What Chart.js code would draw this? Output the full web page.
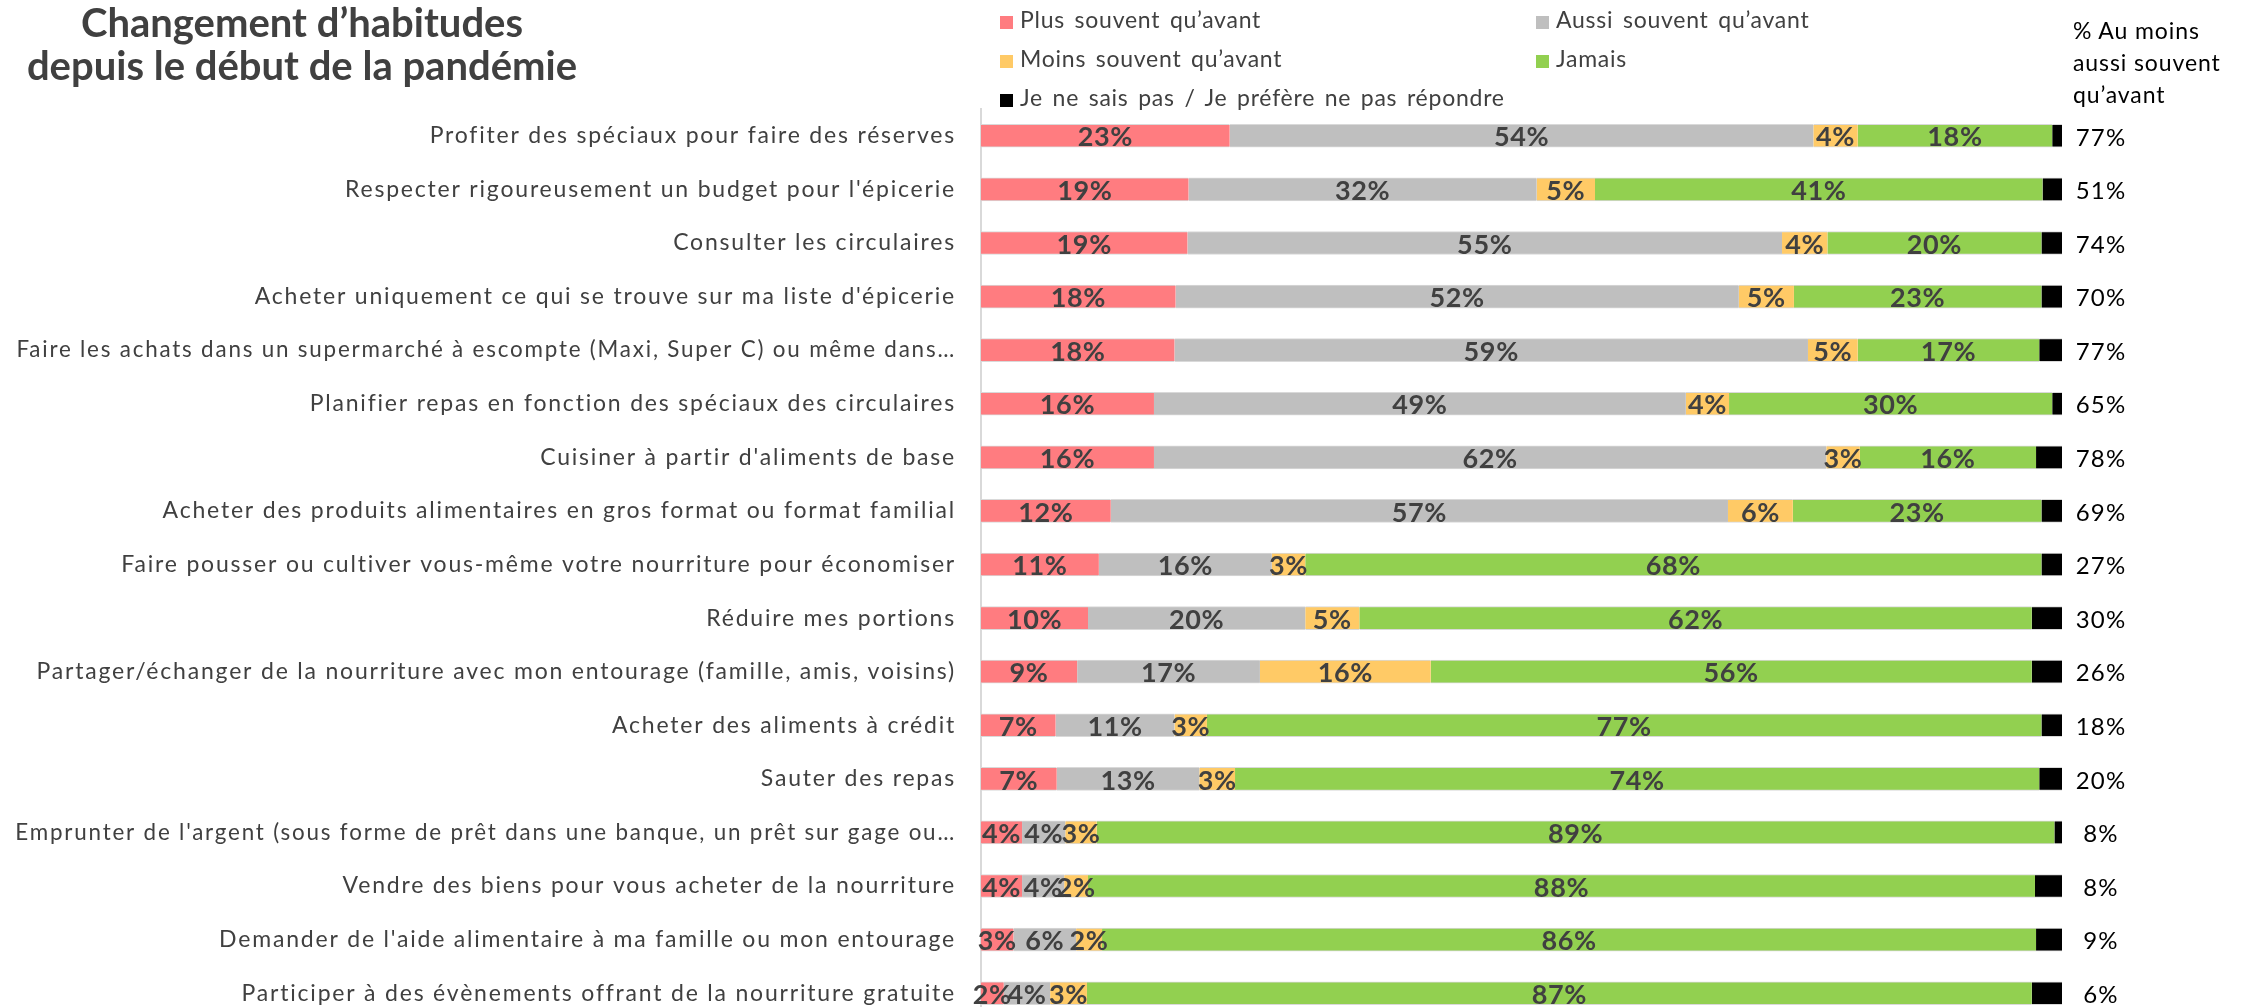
<!DOCTYPE html>
<html><head><meta charset="utf-8">
<script src="https://cdn.jsdelivr.net/npm/chart.js@4.4.1/dist/chart.umd.min.js"></script>
<style>
html,body{margin:0;padding:0;background:#fff;overflow:hidden;width:2243px;height:1007px;}
#wrap{position:relative;width:2243px;height:1007px;overflow:hidden;}
#c{position:absolute;left:0;top:0;width:2243px;height:1030px;}
.title{position:absolute;left:0;width:604px;top:1px;text-align:center;font-family:Lato;font-weight:700;font-size:40px;color:#404040;line-height:43px;}
.leg{position:absolute;font-family:Lato;font-size:23px;letter-spacing:0.75px;word-spacing:3px;color:#404040;white-space:nowrap;line-height:26px;}
.leg i{display:inline-block;width:13px;height:13px;margin-right:7px;vertical-align:-1px;}
.hdr{position:absolute;left:2073px;top:14px;font-family:Lato;font-size:23px;letter-spacing:0.9px;color:#000;line-height:32px;}
</style></head>
<body>
<div id="wrap">
<canvas id="c" width="2243" height="1030"></canvas>
<div class="title">Changement d’habitudes<br>depuis le début de la pandémie</div>
<div id="legend"></div>
<div class="hdr">% Au moins<br>aussi souvent<br>qu’avant</div>
</div>
<script>
const categories = [
  "Profiter des spéciaux pour faire des réserves",
  "Respecter rigoureusement un budget pour l'épicerie",
  "Consulter les circulaires",
  "Acheter uniquement ce qui se trouve sur ma liste d'épicerie",
  "Faire les achats dans un supermarché à escompte (Maxi, Super C) ou même dans…",
  "Planifier repas en fonction des spéciaux des circulaires",
  "Cuisiner à partir d'aliments de base",
  "Acheter des produits alimentaires en gros format ou format familial",
  "Faire pousser ou cultiver vous-même votre nourriture pour économiser",
  "Réduire mes portions",
  "Partager/échanger de la nourriture avec mon entourage (famille, amis, voisins)",
  "Acheter des aliments à crédit",
  "Sauter des repas",
  "Emprunter de l'argent (sous forme de prêt dans une banque, un prêt sur gage ou…",
  "Vendre des biens pour vous acheter de la nourriture",
  "Demander de l'aide alimentaire à ma famille ou mon entourage",
  "Participer à des évènements offrant de la nourriture gratuite"
];
const plusSouvent  = [23.0, 19.2, 19.1, 18.0, 17.9, 16.0, 16.0, 12.0, 10.9,  9.9,  8.9,  6.9,  7.0,  3.8,  3.8,  3.0,  2.1];
const aussiSouvent = [54.0, 32.2, 55.0, 52.1, 58.6, 49.2, 62.2, 57.1, 16.0, 20.1, 16.9, 11.0, 13.2,  4.0,  3.9,  5.8,  4.3];
const moinsSouvent = [ 4.1,  5.4,  4.2,  5.1,  4.6,  4.0,  3.1,  6.0,  3.1,  5.0, 15.8,  3.0,  3.3,  2.9,  2.2,  2.4,  3.4];
const jamais       = [18.0, 41.4, 19.8, 22.9, 16.8, 29.9, 16.3, 23.0, 68.1, 62.2, 55.6, 77.2, 74.4, 88.6, 87.6, 86.4, 87.4];
const neSaisPas    = [ 0.9,  1.8,  1.9,  1.9,  2.1,  0.9,  2.4,  1.9,  1.9,  2.8,  2.8,  1.9,  2.1,  0.7,  2.5,  2.4,  2.8];
const auMoinsAussi = [77, 51, 74, 70, 77, 65, 78, 69, 27, 30, 26, 18, 20, 8, 8, 9, 6];
const seriesNames = ["Plus souvent qu’avant", "Aussi souvent qu’avant", "Moins souvent qu’avant", "Jamais", "Je ne sais pas / Je préfère ne pas répondre"];
const seriesColors = ["#FF7C80", "#BFBFBF", "#FFCA66", "#92D050", "#000000"];
const seriesValues = [plusSouvent, aussiSouvent, moinsSouvent, jamais, neSaisPas];
const labelledSeries = [true, true, true, true, false];

// HTML legend built from the series arrays
const legendPos = [[1000, 6], [1536, 6], [1000, 45], [1536, 45], [1000, 84]];
const legendEl = document.getElementById('legend');
seriesNames.forEach((n, i) => {
  const d = document.createElement('div');
  d.className = 'leg';
  d.style.left = legendPos[i][0] + 'px';
  d.style.top = legendPos[i][1] + 'px';
  d.innerHTML = '<i style="background:' + seriesColors[i] + '"></i>' + n;
  legendEl.appendChild(d);
});

const textSpacing = {
  id: 'textSpacing',
  beforeDraw(chart) { chart.ctx.letterSpacing = '1.8px'; }
};
const segmentLabels = {
  id: 'segmentLabels',
  afterDatasetsDraw(chart) {
    const ctx = chart.ctx;
    ctx.save();
    ctx.letterSpacing = '0.6px';
    ctx.font = 'bold 27px Lato';
    ctx.fillStyle = '#404040';
    ctx.textAlign = 'center';
    ctx.textBaseline = 'middle';
    chart.data.datasets.forEach((ds, di) => {
      if (!labelledSeries[di]) return;
      const meta = chart.getDatasetMeta(di);
      meta.data.forEach((bar, i) => {
        const p = bar.getProps(['x', 'y', 'base'], true);
        ctx.fillText(Math.round(ds.data[i]) + '%', (p.x + p.base) / 2, p.y + 2);
      });
    });
    ctx.restore();
  }
};
const rightColumn = {
  id: 'rightColumn',
  afterDraw(chart) {
    const ctx = chart.ctx;
    const y = chart.scales.y;
    ctx.save();
    ctx.letterSpacing = '1.2px';
    ctx.font = '24px Lato';
    ctx.fillStyle = '#000';
    ctx.textAlign = 'center';
    ctx.textBaseline = 'middle';
    auMoinsAussi.forEach((v, i) => {
      ctx.fillText(v + '%', 2101, y.getPixelForValue(i) + 2);
    });
    ctx.restore();
  }
};

new Chart(document.getElementById('c'), {
  type: 'bar',
  data: {
    labels: categories,
    datasets: seriesValues.map((vals, i) => ({
      label: seriesNames[i],
      data: vals,
      backgroundColor: seriesColors[i],
      borderColor: '#D9D9D9',
      borderWidth: { top: 1, bottom: 1, left: 0, right: 0 },
      borderSkipped: false,
      barThickness: 23
    }))
  },
  options: {
    indexAxis: 'y',
    responsive: false,
    maintainAspectRatio: false,
    animation: false,
    layout: { padding: { top: 109, bottom: 10, right: 181, left: 0 } },
    plugins: { legend: { display: false }, tooltip: { enabled: false } },
    scales: {
      x: { stacked: true, min: 0, max: 100, display: false },
      y: {
        stacked: true,
        grid: { display: false, drawTicks: false },
        border: { display: true, color: '#D9D9D9', width: 2 },
        ticks: {
          padding: 25, color: '#404040', autoSkip: false,
          font: (c) => ({ family: 'Lato', size: categories[c.index] && categories[c.index].endsWith('…') ? 22.4 : 23 })
        },
        afterFit(s) { s.width = 981; s.paddingTop = 0; s.paddingBottom = 0; }
      }
    }
  },
  plugins: [textSpacing, segmentLabels, rightColumn]
});
</script>
</body></html>
